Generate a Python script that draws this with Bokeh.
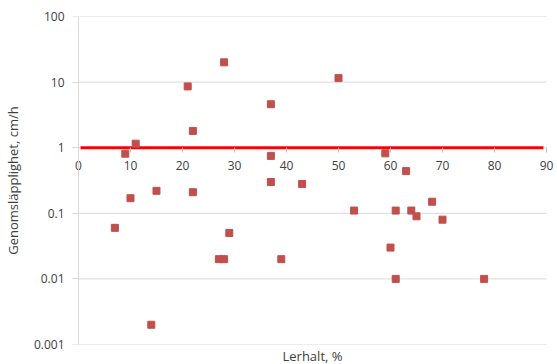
from bokeh.plotting import figure
from bokeh.models import (Range1d, LinearAxis, LogAxis, FixedTicker,
                          NumeralTickFormatter, Title)
from bokeh.embed import file_html
from bokeh.resources import INLINE

# Data
clay_pct = [28, 21, 22, 11, 9, 37, 37, 50, 59, 63,
            7, 10, 15, 22, 37, 29, 27, 28, 39, 14,
            43, 53, 61, 64, 65, 68, 70, 60, 61, 78]
permeability = [20, 8.6, 1.8, 1.15, 0.81, 4.6, 0.75, 11.5, 0.82, 0.44,
                0.06, 0.17, 0.22, 0.21, 0.3, 0.05, 0.02, 0.02, 0.02, 0.002,
                0.28, 0.11, 0.11, 0.11, 0.09, 0.15, 0.08, 0.03, 0.01, 0.01]
x_ticks = [0, 10, 20, 30, 40, 50, 60, 70, 80, 90]
y_ticks = [0.001, 0.01, 0.1, 1, 10, 100]
x_min, x_max = 0, 90          # axis limits
x_axis_cross = 1              # x axis crosses the y axis at y = 1
y_axis_cross = 0              # y axis crosses the x axis at x = 0
ref_x = [0.4, 89.4]
ref_y = [1, 1]

FONT = "Open Sans"
GRID = "#d9d9d9"
TXT = "#404040"

# small view padding (in x units) so the end tick labels are not clipped
pad = 1.535

p = figure(width=557, height=364, y_axis_type="log",
           x_range=Range1d(x_min - pad, x_max + pad),
           y_range=Range1d(y_ticks[0], y_ticks[-1]),
           output_backend="svg", toolbar_location=None,
           x_axis_location=None,
           min_border_left=69, min_border_right=3,
           min_border_top=16, min_border_bottom=20)
p.outline_line_color = None
p.background_fill_color = "white"
p.border_fill_color = "white"
p.xgrid.grid_line_color = None
p.ygrid.grid_line_color = None

# outer left axis: only tick labels and the axis title
ya = p.yaxis[0]
ya.ticker = FixedTicker(ticks=y_ticks, minor_ticks=[])
ya.formatter = NumeralTickFormatter(format="0.[000]")
ya.axis_line_color = None
ya.major_tick_line_color = None
ya.major_tick_out = 0
ya.major_tick_in = 0
ya.minor_tick_line_color = None
ya.major_label_standoff = 6
ya.major_label_text_font = FONT
ya.major_label_text_font_size = "12px"
ya.major_label_text_color = TXT
ya.axis_label = "Genomsläpplighet, cm/h"
ya.axis_label_text_font = FONT
ya.axis_label_text_font_size = "13px"
ya.axis_label_text_font_style = "normal"
ya.axis_label_text_color = TXT
ya.axis_label_standoff = 9

# horizontal grid lines spanning the x axis limits
n = len(y_ticks)
p.segment(x0=[x_min] * n, y0=y_ticks, x1=[x_max] * n, y1=y_ticks,
          line_color=GRID, line_width=1)

# y axis line with tick marks at x = 0
yline = LogAxis(fixed_location=y_axis_cross,
                ticker=FixedTicker(ticks=y_ticks, minor_ticks=[]))
yline.axis_line_color = GRID
yline.major_tick_line_color = GRID
yline.major_tick_out = 6
yline.major_tick_in = 0
yline.minor_tick_line_color = None
yline.major_label_text_color = None
yline.major_label_text_font_size = "1px"
p.add_layout(yline, "left")

# x axis crossing at y = 1
xa = LinearAxis(fixed_location=x_axis_cross,
                ticker=FixedTicker(ticks=x_ticks, minor_ticks=[]))
xa.axis_line_color = None
xa.major_tick_line_color = "#bfbfbf"
xa.major_tick_out = 5
xa.major_tick_in = 0
xa.minor_tick_line_color = None
xa.major_label_standoff = 8
xa.major_label_text_font = FONT
xa.major_label_text_font_size = "12px"
xa.major_label_text_color = TXT
p.add_layout(xa, "below")

p.add_layout(Title(text="Lerhalt, %", align="center", text_font=FONT,
                   text_font_size="13px", text_font_style="normal",
                   text_color=TXT, standoff=0, offset=0), "below")

p.line(ref_x, ref_y, line_color="#ff0000", line_width=3)
p.scatter(clay_pct, permeability, marker="square", size=7,
          fill_color="#c0504d", line_color="#c0504d")

open("out.html", "w").write(file_html(p, INLINE))
